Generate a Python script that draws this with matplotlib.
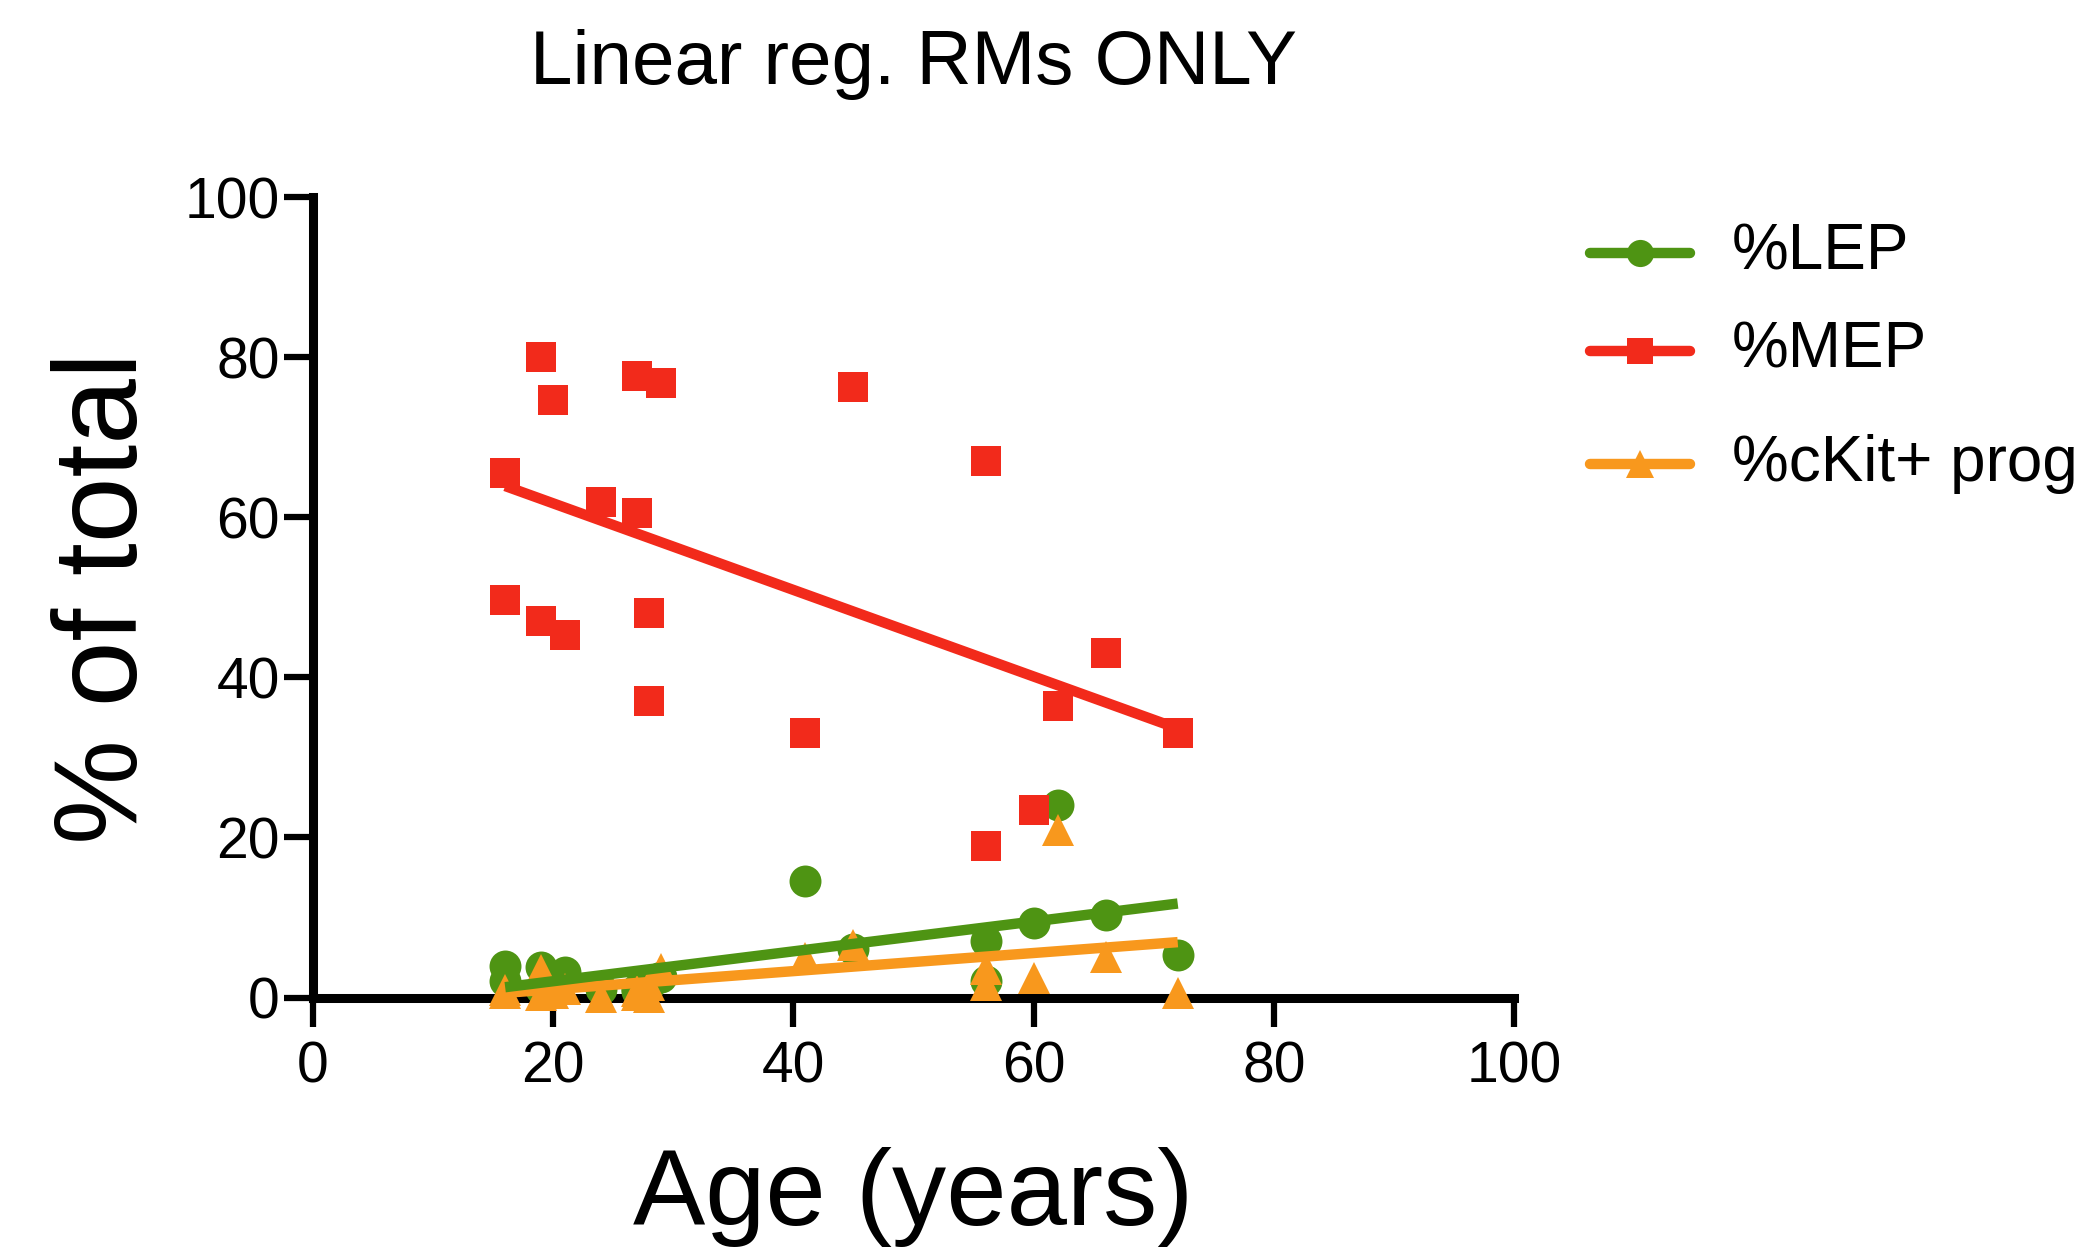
import numpy as np
import matplotlib
matplotlib.use("Agg")
import matplotlib.pyplot as plt
from matplotlib.lines import Line2D

plt.rcParams['font.family'] = ['Liberation Sans', 'DejaVu Sans']

# ---- data ----
age = [16, 16, 19, 19, 20, 21, 24, 27, 27, 28, 28, 29, 41, 45, 56, 56, 60, 62, 66, 72]
mep = [65.6, 49.7, 80.0, 47.1, 74.7, 45.3, 61.9, 77.7, 60.5, 48.1, 37.0, 76.8, 33.0, 76.3, 67.1, 18.9, 23.4, 36.4, 43.1, 33.0]
lep = [3.9, 2.0, 3.8, 1.0, 1.5, 3.2, 1.0, 1.0, 0.8, 1.5, 2.0, 2.5, 14.5, 6.0, 7.0, 2.0, 9.3, 24.1, 10.3, 5.3]
ckit = [0.9, 0.5, 3.4, 0.3, 0.5, 1.0, 0.1, 0.3, 0.8, 0.1, 1.5, 3.5, 4.9, 6.5, 1.5, 3.5, 2.4, 20.9, 5.1, 0.5]
series_labels = ["%LEP", "%MEP", "%cKit+ prog"]
xticks = [0, 20, 40, 60, 80, 100]
yticks = [0, 20, 40, 60, 80, 100]

c_green = '#4E9413'
c_red = '#F22A1B'
c_orange = '#F8981D'

fig = plt.figure(figsize=(20.91, 12.56), dpi=100)
ax = fig.add_axes([313/2091, 1-997.5/1256, (1514-313)/2091, (997.5-197.4)/1256])

x = np.array(age, dtype=float)
series = [(lep, c_green, 'o', 23), (mep, c_red, 's', 22), (ckit, c_orange, '^', 23)]
for i, (vals, col, mk, ms) in enumerate(series):
    ax.plot(x, vals, linestyle='none', marker=mk, markersize=ms, color=col,
            markeredgewidth=0, clip_on=False, zorder=3 + 0.1*i)

xs = np.array([x.min(), x.max()])
line_z = {c_orange: 4.0, c_green: 4.1, c_red: 4.2}
for vals, col, mk, ms in series:
    k, b = np.polyfit(x, np.array(vals), 1)
    ax.plot(xs, k*xs + b, color=col, lw=7.5, solid_capstyle='butt', zorder=line_z[col], clip_on=False)

ax.set_xlim(0, 100)
ax.set_ylim(0, 100)
ax.set_xticks(xticks)
ax.set_yticks(yticks)
for s in ['top', 'right']:
    ax.spines[s].set_visible(False)
for s in ['left', 'bottom']:
    ax.spines[s].set_linewidth(6.5)
    ax.spines[s].set_zorder(2.5)
ax.tick_params(axis='both', direction='out', length=21, width=4.5, labelsize=41)
ax.tick_params(axis='y', pad=3)
ax.tick_params(axis='x', pad=10)

ax.set_xlabel("Age (years)", fontsize=78, labelpad=38)
ax.set_ylabel("% of total", fontsize=85, labelpad=16)
fig.text(913/2091, 1-64/1256, "Linear reg. RMs ONLY", fontsize=55, ha='center', va='center')

# legend drawn manually
leg_rows = [253, 351, 464]
for (vals, col, mk, ms), lab, yr in zip(series, series_labels, leg_rows):
    yf = 1 - yr/1256
    fig.add_artist(Line2D([1590/2091, 1690/2091], [yf, yf], color=col, lw=7.5,
                          marker=None, solid_capstyle='round', transform=fig.transFigure))
    fig.add_artist(Line2D([1640/2091], [yf], color=col, marker=mk, markersize=ms*0.85,
                          markeredgewidth=0, linestyle='none', transform=fig.transFigure))
    fig.text(1732/2091, yf, lab, fontsize=46, ha='left', va='center')

fig.savefig("out.png", dpi=100, facecolor='white')
